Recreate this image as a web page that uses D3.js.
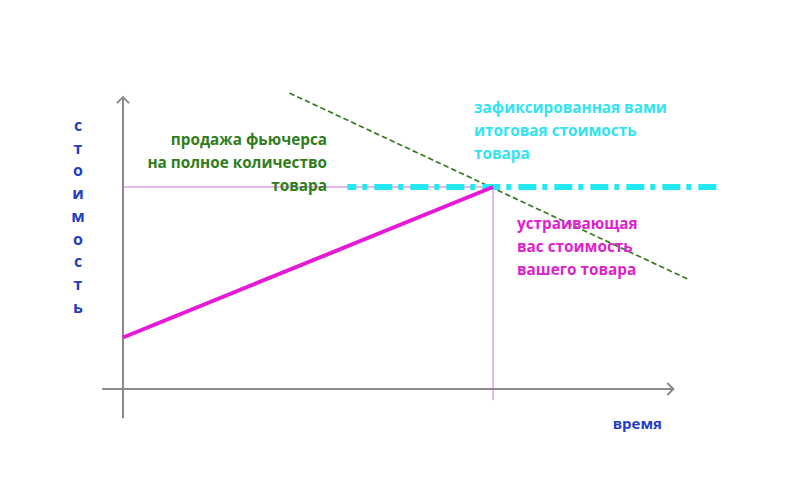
<!DOCTYPE html>
<html>
<head>
<meta charset="utf-8">
<script src="https://cdn.jsdelivr.net/npm/d3@7"></script>
<style>
  body { margin: 0; background: #fff; }
  text { font-family: "Open Sans", sans-serif; font-weight: 700; }
</style>
</head>
<body>
<div id="chart"></div>
<script>
// time / cost in arbitrary units
var time_domain = [0, 8];
var cost_domain = [0, 10];
var x_axis_extent = [-0.45, 11.9];
var y_axis_extent = [-1.45, 14.45];

var price_line = [{t: 0, c: 2.55}, {t: 8, c: 10}];       // magenta
var fixed_line = [{t: 4.85, c: 10}, {t: 12.85, c: 10}];  // cyan dash-dot
var futures_line = [{t: 3.6, c: 14.65}, {t: 12.25, c: 5.4}]; // green dashed
var guide_h = [{t: 0, c: 10}, {t: 8, c: 10}];
var guide_v = [{t: 8, c: 10}, {t: 8, c: -0.55}];

var y_label = "стоимость";
var x_label = "время";
var futures_text = ["продажа фьючерса", "на полное количество", "товара"];
var fixed_text = ["зафиксированная вами", "итоговая стоимость", "товара"];
var price_text = ["устраивающая", "вас стоимость", "вашего товара"];

var width = 790, height = 492;

var svg = d3.select("#chart").append("svg")
    .attr("width", width)
    .attr("height", height);

var x = d3.scaleLinear().domain(time_domain).range([123, 493]);
var y = d3.scaleLinear().domain(cost_domain).range([389, 187]);

var line = d3.line()
    .x(function(d) { return x(d.t); })
    .y(function(d) { return y(d.c); });

// thin guides
[guide_h, guide_v].forEach(function(g) {
    svg.append("path")
        .attr("d", line(g))
        .attr("fill", "none")
        .attr("stroke", "#cf72d6")
        .attr("stroke-width", 1);
});

// axes
var axis_color = "#8a8a8a";
svg.append("line")
    .attr("x1", x(x_axis_extent[0])).attr("x2", x(x_axis_extent[1]))
    .attr("y1", y(0)).attr("y2", y(0))
    .attr("stroke", axis_color).attr("stroke-width", 2);
svg.append("line")
    .attr("x1", x(0)).attr("x2", x(0))
    .attr("y1", y(y_axis_extent[0])).attr("y2", y(y_axis_extent[1]))
    .attr("stroke", axis_color).attr("stroke-width", 2);

// arrow heads
var ax = x(x_axis_extent[1]), ay = y(0);
svg.append("path")
    .attr("d", "M" + (ax - 6) + "," + (ay - 6) + "L" + ax + "," + ay + "L" + (ax - 6) + "," + (ay + 6))
    .attr("fill", "none").attr("stroke", axis_color).attr("stroke-width", 2);
var bx = x(0), by = y(y_axis_extent[1]);
svg.append("path")
    .attr("d", "M" + (bx - 6) + "," + (by + 6) + "L" + bx + "," + by + "L" + (bx + 6) + "," + (by + 6))
    .attr("fill", "none").attr("stroke", axis_color).attr("stroke-width", 2);

// futures (green dashed)
svg.append("path")
    .attr("d", line(futures_line))
    .attr("fill", "none")
    .attr("stroke", "#3a7a1e")
    .attr("stroke-width", 1.7)
    .attr("stroke-dasharray", "5.5,3");

// fixed price (cyan dash-dot)
svg.append("path")
    .attr("d", line(fixed_line))
    .attr("fill", "none")
    .attr("stroke", "#22e8f2")
    .attr("stroke-width", 6)
    .attr("stroke-dasharray", "18,6,5,7")
    .attr("stroke-dashoffset", 9);

// price line (magenta)
svg.append("path")
    .attr("d", line(price_line))
    .attr("fill", "none")
    .attr("stroke", "#e619d6")
    .attr("stroke-width", 4);

// vertical axis label, one letter per row
svg.append("g").selectAll("text")
    .data(y_label.split(""))
    .enter().append("text")
    .attr("x", 78)
    .attr("y", function(d, i) { return 131 + i * 22.7; })
    .attr("text-anchor", "middle")
    .attr("font-size", 16)
    .attr("fill", "#1f3fbf")
    .text(function(d) { return d; });

svg.append("text")
    .attr("x", 662).attr("y", 429)
    .attr("text-anchor", "end")
    .attr("font-size", 15)
    .attr("fill", "#1f3fbf")
    .text(x_label);

function block(lines, px, py, anchor, color) {
    svg.append("g").selectAll("text")
        .data(lines)
        .enter().append("text")
        .attr("x", px)
        .attr("y", function(d, i) { return py + i * 23; })
        .attr("text-anchor", anchor)
        .attr("font-size", 15.3)
        .attr("fill", color)
        .text(function(d) { return d; });
}

block(futures_text, 327, 145, "end", "#2f7d1c");
block(fixed_text, 474, 113, "start", "#33e3f0");
block(price_text, 517, 229, "start", "#dd22cc");
</script>
</body>
</html>
